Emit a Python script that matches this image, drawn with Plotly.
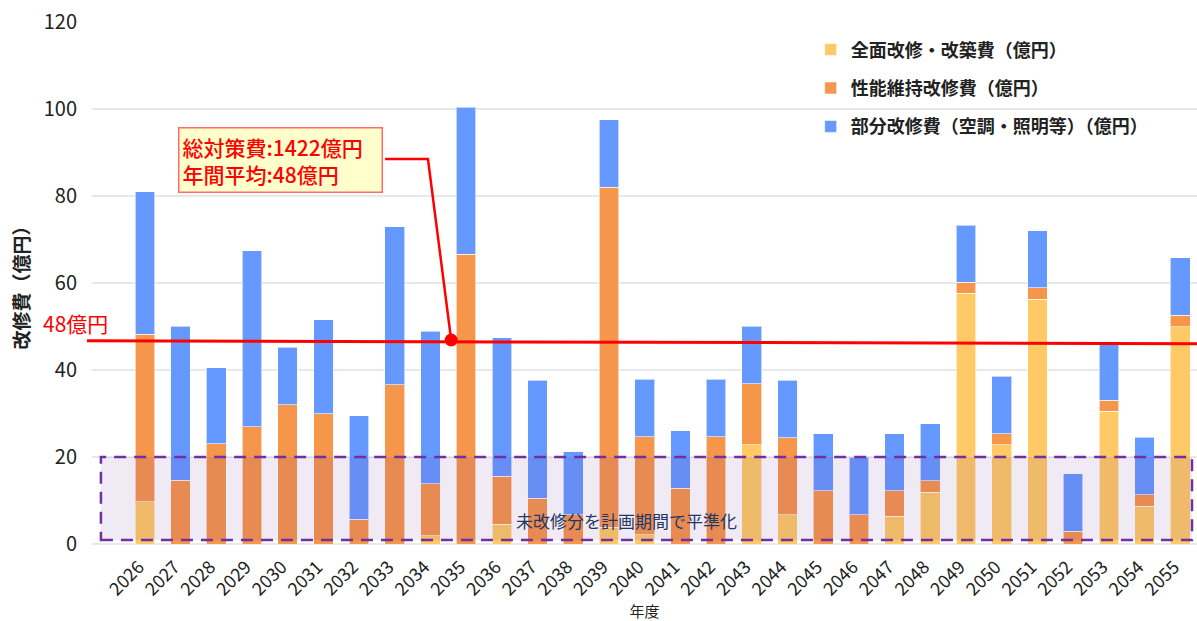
import plotly.graph_objects as go

years = [str(y) for y in range(2026, 2056)]
full_renewal = [9.7, 0, 0, 0, 0, 0, 0, 0, 1.9, 0, 4.5, 0, 0, 3.8, 2.1, 0, 0, 22.8, 6.7, 0,
                0, 6.4, 11.9, 57.7, 22.8, 56.3, 0, 30.5, 8.7, 50.0]
performance = [38.5, 14.7, 23.0, 26.9, 32.0, 30.0, 5.7, 36.6, 12.0, 66.6, 11.1, 10.5, 6.7, 78.2, 22.6,
               12.8, 24.7, 14.0, 17.7, 12.2, 6.7, 5.8, 2.6, 2.5, 2.5, 2.6, 2.9, 2.6, 2.6, 2.6]
partial = [32.8, 35.4, 17.5, 40.5, 13.2, 21.6, 23.8, 36.3, 35.0, 33.8, 31.8, 27.1, 14.5, 15.5, 13.2,
           13.2, 13.2, 13.3, 13.2, 13.2, 13.2, 13.1, 13.1, 13.1, 13.3, 13.1, 13.2, 12.9, 13.2, 13.2]

series_names = ["全面改修・改築費（億円）", "性能維持改修費（億円）", "部分改修費（空調・照明等）（億円）"]
series_colors = ["#FFCA66", "#F5964A", "#6699FF"]

avg_line_y = [46.7, 46.05]        # drawn average line (left, right)
avg_point = (8.58, 46.9)          # callout marker
callout_corner = (7.93, 88.5)
callout_start = (6.73, 88.5)
box_y = [0.9, 20]
box_x = [-1.23, 29.33]
x_range = [-1.48, 29.47]

FONT = "Noto Sans CJK JP"
idx = list(range(len(years)))

fig = go.Figure()
for name, vals, col, grp in zip(series_names, [full_renewal, performance, partial], series_colors, ["a", "b", "c"]):
    fig.add_trace(go.Bar(
        x=idx, y=vals, name=name, legendgroup=grp,
        marker=dict(color=col, line=dict(color="rgba(255,255,255,0.6)", width=1)),
        width=0.55,
    ))

fig.add_trace(go.Scatter(
    x=[avg_point[0]], y=[avg_point[1]], mode="markers",
    marker=dict(color="#FF0000", size=13), showlegend=False, cliponaxis=False,
))

shapes = [
    dict(type="rect", xref="x", yref="y", x0=box_x[0], x1=box_x[1], y0=box_y[0], y1=box_y[1],
         line=dict(color="#7030A0", width=2.5, dash="12px,8px"),
         fillcolor="rgba(112,48,160,0.10)", layer="above"),
    dict(type="line", xref="paper", yref="y", x0=-0.0045, x1=1.0, y0=avg_line_y[0], y1=avg_line_y[1],
         line=dict(color="#FF0000", width=3), layer="above"),
    dict(type="path", xref="x", yref="y",
         path=f"M{callout_start[0]},{callout_start[1]} L{callout_corner[0]},{callout_corner[1]} L{avg_point[0]},{avg_point[1]}",
         line=dict(color="#FF0000", width=2.5), layer="above"),
]

annotations = [
    dict(xref="paper", yref="paper", x=0.0778, y=0.7989, xanchor="left", yanchor="top",
         text="総対策費:1422億円<br>年間平均:48億円", align="left", showarrow=False, width=196,
         font=dict(family=FONT, size=21, color="#FF0000", weight=500),
         bgcolor="#FFFFCC", bordercolor="#FF6B6B", borderwidth=1.5, borderpad=3),
    dict(xref="paper", yref="y", x=0.0163, y=50.8, xanchor="right", yanchor="middle",
         text="48億円", showarrow=False, font=dict(family=FONT, size=21, color="#FF0000")),
    dict(xref="x", yref="y", x=13.48, y=5.5, text="未改修分を計画期間で平準化", showarrow=False,
         font=dict(family=FONT, size=17, color="#1F3864")),
]

fig.update_layout(
    width=1197, height=621,
    barmode="stack",
    plot_bgcolor="white", paper_bgcolor="white",
    margin=dict(l=92, r=0, t=22, b=77),
    font=dict(family=FONT, color="#222222"),
    shapes=shapes, annotations=annotations,
    legend=dict(x=0.6504, y=0.982, xanchor="left", yanchor="top", traceorder="grouped",
                tracegroupgap=12, bgcolor="rgba(0,0,0,0)",
                font=dict(family=FONT, size=18, color="#222222", weight=600)),
    xaxis=dict(range=x_range, tickvals=idx, ticktext=years, tickangle=-45, automargin=False,
               tickfont=dict(family=FONT, size=18, color="#222222"), ticklabelshift=-6,
               ticklabelstandoff=8,
               showgrid=False, zeroline=False, showline=False, ticks="",
               title=dict(text="年度", font=dict(family=FONT, size=15, color="#222222"), standoff=6)),
    yaxis=dict(range=[0, 120], dtick=20, tickfont=dict(family=FONT, size=20, color="#222222"),
               showgrid=True, gridcolor="#E8E8E8", gridwidth=2, zeroline=True, zerolinecolor="#E8E8E8",
               zerolinewidth=2, ticks="", ticklabelstandoff=14, automargin=False,
               title=dict(text="改修費（億円）", font=dict(family=FONT, size=19, color="#222222", weight=600),
                          standoff=9)),
)

fig.write_html("out.html", config={"displayModeBar": False},
               post_script="document.body.style.margin='0';document.body.style.overflow='hidden';")
